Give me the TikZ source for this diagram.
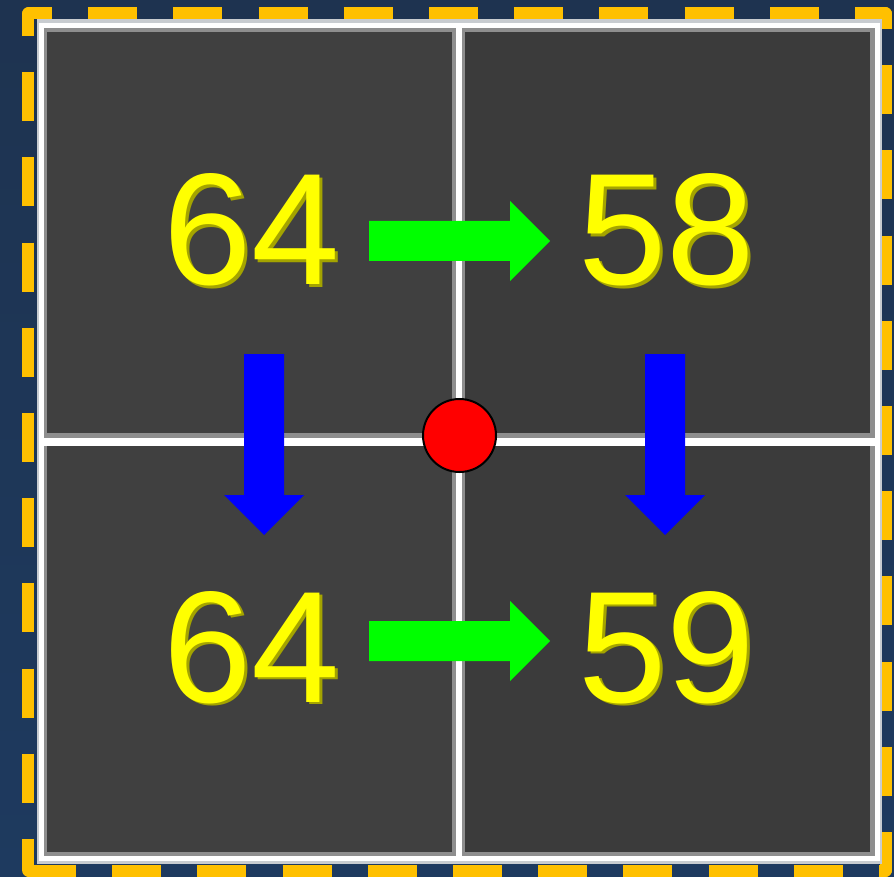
\documentclass[tikz,border=0pt]{standalone}
\usepackage{fontspec}
\setmainfont{Liberation Sans}
\definecolor{navytop}{HTML}{1E3350}
\definecolor{navybot}{HTML}{1E3A5F}
\definecolor{frameyel}{HTML}{FFC000}
\definecolor{celldark}{HTML}{404040}
\definecolor{celldarkb}{HTML}{3B3B3B}
\definecolor{gridlight}{HTML}{C8CCD0}
\definecolor{gridgray}{HTML}{8E8E8E}
\definecolor{digit}{HTML}{FFFF00}
\definecolor{digitshadow}{HTML}{A4A400}
\definecolor{arrgreen}{HTML}{00FF00}
\definecolor{arrblue}{HTML}{0000FF}
\newcommand{\shadowed}[1]{\rlap{\kern3pt\raisebox{-2.5pt}{\color{digitshadow}#1}}#1}
\begin{document}
\begin{tikzpicture}[x=1pt,y=-1pt,
  digitlabel/.style={font=\fontsize{159}{159}\selectfont, text=digit, anchor=base, inner sep=0pt},
  frameside/.style={draw=frameyel, line width=12pt, dash pattern=on 49pt off 36.2pt},
  gridline/.style={draw=white},
  greenarrow/.style={fill=arrgreen},
  bluearrow/.style={fill=arrblue}]
\useasboundingbox (0,0) rectangle (894,877);
% background
\shade[top color=navytop, bottom color=navybot] (0,0) rectangle (894,877);
% dashed frame, one side at a time
\begin{scope}
  \clip[rounded corners=7pt] (22,7) rectangle (892,877);
  \draw[frameside, dash phase=19pt] (22,13) -- (892,13);
  \draw[frameside, dash phase=20pt] (28,7) -- (28,877);
  \draw[frameside, dash phase=27pt] (886,7) -- (886,877);
  \draw[frameside, dash phase=0pt] (27,871) -- (892,871);
\end{scope}
% grid base
\fill[gridlight] (37,19) rectangle (882,864);
\fill[gridgray] (41,25) rectangle (877,858);
\draw[white, line width=5pt] (41,25.5) rectangle (877,858);
% cells
\fill[celldark]  (47,32)  rectangle (452,433);
\fill[celldarkb] (465,32) rectangle (870,433);
\fill[celldark]  (47,446) rectangle (452,852);
\fill[celldarkb] (465,446) rectangle (870,852);
% grid lines
\draw[gridline, line width=6pt] (459,28) -- (459,856);
\draw[gridline, line width=8pt] (43,441.5) -- (875,441.5);
% numbers
\node[digitlabel] (tl) at (252,285) {\shadowed{64}};
\node[digitlabel] (tr) at (666.5,285) {\shadowed{58}};
\node[digitlabel] (bl) at (252,702) {\shadowed{64}};
\node[digitlabel] (br) at (666.5,702) {\shadowed{59}};
% green arrows
\fill[greenarrow] (369,221) -- (510,221) -- (510,201) -- (550,241) -- (510,281) -- (510,261) -- (369,261) -- cycle;
\fill[greenarrow] (369,621) -- (510,621) -- (510,601) -- (550,641) -- (510,681) -- (510,661) -- (369,661) -- cycle;
% blue arrows
\fill[bluearrow] (244,354) -- (284,354) -- (284,495) -- (304,495) -- (264,535) -- (224,495) -- (244,495) -- cycle;
\fill[bluearrow] (645,354) -- (685,354) -- (685,495) -- (705,495) -- (665,535) -- (625,495) -- (645,495) -- cycle;
% red centre point
\node[circle, fill=red, draw=black, line width=2pt, minimum size=73pt, inner sep=0pt] (centre) at (459.5,435.5) {};
\end{tikzpicture}
\end{document}
